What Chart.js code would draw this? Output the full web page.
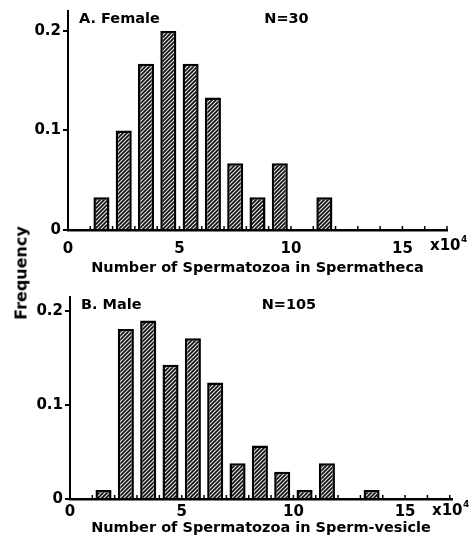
<!DOCTYPE html>
<html>
<head>
<meta charset="utf-8">
<script src="https://cdn.jsdelivr.net/npm/chart.js@4.4.1/dist/chart.umd.min.js"></script>
<style>
  html, body { margin: 0; padding: 0; background: #fff; }
  #wrap { position: relative; width: 475px; height: 544px; overflow: hidden; }
  #wrap canvas { position: absolute; left: 0; }
  #ylabel {
    position: absolute; left: 21px; top: 273px;
    transform: translate(-50%, -50%) rotate(-90deg);
    font: bold 16px "DejaVu Sans"; color: #000; white-space: nowrap;
  }
</style>
</head>
<body>
<div id="wrap">
  <canvas id="female" width="475" height="290" style="top:0"></canvas>
  <canvas id="male" width="475" height="272" style="top:272px"></canvas>
  <div id="ylabel">Frequency</div>
</div>
<script>
// bin centres (x10^4 spermatozoa), one bar per bin of width 1
const binCenters = [1.5, 2.5, 3.5, 4.5, 5.5, 6.5, 7.5, 8.5, 9.5, 10.5, 11.5, 12.5, 13.5];

// A. Female, N=30
const femaleFreq = [0.033, 0.1, 0.167, 0.2, 0.167, 0.133, 0.067, 0.033, 0.067, 0, 0.033];
// B. Male, N=105
const maleFreq = [0.0095, 0.181, 0.19, 0.143, 0.171, 0.124, 0.038, 0.057, 0.029, 0.0095, 0.038, 0, 0.0095];

const xTickLabels = [0, 5, 10, 15];
const yTickLabels = [0, 0.1, 0.2];

Chart.defaults.font.family = '"DejaVu Sans", sans-serif';
Chart.defaults.font.weight = 'bold';
Chart.defaults.color = '#000';

// diagonal hatch fill like the printed bars
function makeHatch() {
    const c = document.createElement('canvas');
    c.width = 4; c.height = 4;
    const g = c.getContext('2d');
    g.fillStyle = '#e8e8e8';
    g.fillRect(0, 0, 4, 4);
    g.strokeStyle = '#111';
    g.lineWidth = 1.7;
    g.beginPath();
    g.moveTo(-1, 5); g.lineTo(5, -1);
    g.moveTo(-1, 1); g.lineTo(1, -1);
    g.moveTo(3, 5); g.lineTo(5, 3);
    g.stroke();
    return g.createPattern(c, 'repeat');
}
const hatch = makeHatch();

function makePanel(id, freq, p) {
    // panel label, N, exponent and inward x ticks
    const panelPlugin = {
        id: 'panelText',
        afterDatasetsDraw(chart) {
            const x = chart.scales.x, area = chart.chartArea, ctx = chart.ctx;
            ctx.save();
            ctx.strokeStyle = '#000';
            ctx.lineWidth = 1.5;
            for (let i = 1; i <= Math.floor(p.xMax); i++) {
                const px = x.getPixelForValue(i);
                ctx.beginPath();
                ctx.moveTo(px, area.bottom);
                ctx.lineTo(px, area.bottom - 4);
                ctx.stroke();
            }
            ctx.restore();
        },
        afterDraw(chart) {
            const x = chart.scales.x, area = chart.chartArea, ctx = chart.ctx;
            ctx.save();
            ctx.fillStyle = '#000';
            ctx.textBaseline = 'middle';
            ctx.font = 'bold 14.5px "DejaVu Sans"';
            ctx.textAlign = 'left';
            ctx.fillText(p.label, area.left + 11, area.top + 8);
            ctx.textAlign = 'center';
            ctx.fillText(p.n, x.getPixelForValue(9.8), area.top + 8);
            // x10^4 multiplier at the end of the axis
            ctx.textAlign = 'left';
            ctx.font = 'bold 15px "DejaVu Sans"';
            const ex = area.right - p.expOffset;
            const ey = area.bottom + p.expDy;
            ctx.fillText('x10', ex, ey);
            const w = ctx.measureText('x10').width;
            ctx.font = 'bold 9px "DejaVu Sans"';
            ctx.fillText('4', ex + w + 0.5, ey - 6);
            ctx.restore();
        }
    };

    return new Chart(document.getElementById(id), {
        type: 'bar',
        data: {
            datasets: [{
                data: freq.map((v, i) => ({ x: binCenters[i], y: v })),
                backgroundColor: hatch,
                borderColor: '#000',
                borderWidth: c => (c.raw && c.raw.y > 0 ? 2.5 : 0),
                barPercentage: 0.72,
                categoryPercentage: 1
            }]
        },
        options: {
            responsive: false,
            animation: false,
            layout: { padding: { top: p.top, right: p.right, left: 0, bottom: p.bottom } },
            plugins: { legend: { display: false }, tooltip: { enabled: false } },
            scales: {
                x: {
                    type: 'linear',
                    offset: false,
                    min: 0,
                    max: p.xMax,
                    grid: { display: false, drawTicks: false },
                    border: { color: '#000', width: 2.5 },
                    ticks: {
                        stepSize: 1,
                        autoSkip: false,
                        maxRotation: 0,
                        includeBounds: false,
                        padding: p.xTickPad,
                        font: { size: 15, weight: 'bold' },
                        color: '#000',
                        callback: v => (xTickLabels.includes(v) ? String(v) : '')
                    },
                    title: {
                        display: true,
                        text: p.xTitle,
                        font: { size: 14.5, weight: 'bold' },
                        color: '#000',
                        padding: { top: 0, bottom: 0 }
                    },
                    afterFit: s => { s.height = p.xHeight; }
                },
                y: {
                    min: 0,
                    max: p.yMax,
                    grid: { drawOnChartArea: false, tickLength: 5, color: '#000', lineWidth: 2 },
                    border: { color: '#000', width: 2 },
                    ticks: {
                        stepSize: 0.1,
                        includeBounds: false,
                        padding: 2,
                        font: { size: 15, weight: 'bold' },
                        color: '#000',
                        callback: v => {
                            const m = yTickLabels.find(t => Math.abs(t - v) < 1e-9);
                            return m === undefined ? '' : (m === 0 ? '0' : m.toFixed(1));
                        }
                    },
                    afterFit: s => { s.width = p.yWidth; }
                }
            }
        },
        plugins: [panelPlugin]
    });
}

makePanel('female', femaleFreq, {
    label: 'A. Female', n: 'N=30',
    xTitle: 'Number of Spermatozoa in Spermatheca',
    yMax: 0.22, xMax: 17,
    top: 9, right: 28, bottom: 13, xHeight: 47, yWidth: 68,
    xTickPad: 10, expOffset: 17, expDy: 16
});

makePanel('male', maleFreq, {
    label: 'B. Male', n: 'N=105',
    xTitle: 'Number of Spermatozoa in Sperm-vesicle',
    yMax: 0.215, xMax: 17.1,
    top: 25, right: 23, bottom: 7, xHeight: 38, yWidth: 70,
    xTickPad: 4, expOffset: 20, expDy: 12
});
</script>
</body>
</html>
